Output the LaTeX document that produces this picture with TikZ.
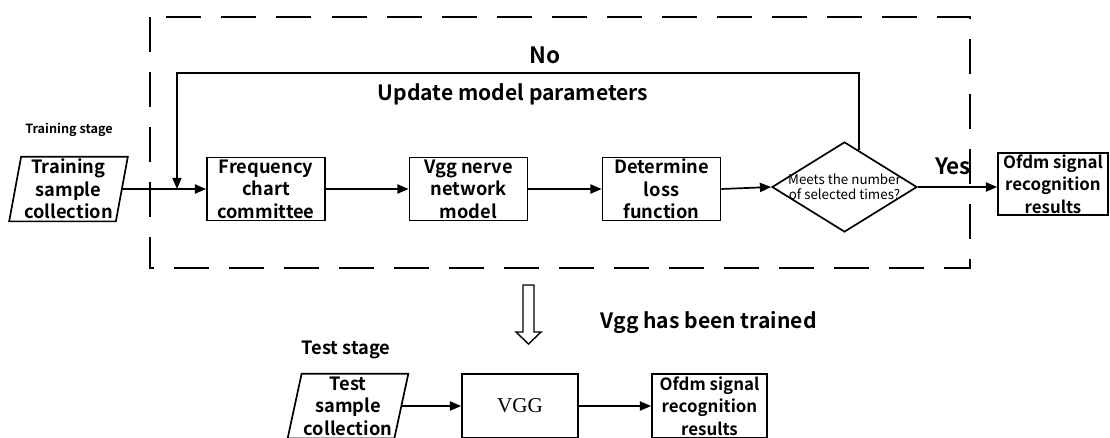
\documentclass[tikz,border=0pt]{standalone}
\usepackage{fontspec}
\setmainfont{Noto Sans CJK SC}[BoldFont={Noto Sans CJK SC Bold}]
\newfontfamily\vggfont{Liberation Serif}
\usetikzlibrary{arrows.meta,shapes.geometric,calc}

\tikzset{
  stepbox/.style={draw, minimum width=2.95cm, minimum height=1.575cm, inner sep=0pt,
    align=center, font=\bfseries\fontsize{13}{16}\selectfont},
  resbox/.style={stepbox, minimum width=2.75cm, minimum height=1.55cm,
    font=\bfseries\fontsize{12}{16}\selectfont},
  datain/.style={minimum width=2.625cm, minimum height=1.575cm, inner sep=0pt,
    align=center, font=\bfseries\fontsize{13}{16}\selectfont},
  flow/.style={-{Triangle[length=8pt,width=6.5pt]}},
  lbl/.style={font=\bfseries\fontsize{#1}{#1}\selectfont, inner sep=0pt},
}

\begin{document}
\begin{tikzpicture}[x=0.025cm, y=-0.025cm, line width=1.2pt]
  \useasboundingbox (0,0) rectangle (1110,437);

  % training stage
  \draw[line width=1.3pt, dash pattern=on 0.875cm off 0.5cm] (150,17) rectangle (970,268);
  \node[lbl=9] (trainlbl) at (69,130) {Training stage};
  \node[datain] (train) at (68.5,189) {Training\\sample\\collection};
  \draw ($(train.north west)+(6,0)$) -- ($(train.north east)+(6,0)$)
     -- ($(train.south east)+(-6,0)$) -- ($(train.south west)+(-6,0)$) -- cycle;
  \node[stepbox] (freq) at (266,189) {Frequency\\chart\\committee};
  \node[stepbox] (vggnet) at (468.5,189) {Vgg nerve\\network\\model};
  \node[stepbox] (loss) at (661.5,189) {Determine\\loss\\function};
  \node[diamond, draw, aspect=1.9, minimum width=3.625cm, minimum height=2.25cm,
        inner sep=-5pt, align=center, font=\fontsize{9.5}{11}\selectfont]
        (check) at (844.5,187) {Meets the number\\of selected times?};
  \node[resbox] (result) at (1053,184) {Ofdm signal\\recognition\\results};

  \draw[flow] (train) -- (freq);
  \draw[flow] (freq) -- (vggnet);
  \draw[flow] (vggnet) -- (loss);
  \draw[flow] (loss.east) -- (check.west);
  \draw[flow] (check.east) -- (check.east -| result.west);

  % feedback loop
  \coordinate (fbtop) at (177,73);
  \draw[flow] ($(check.north)!0.2!(check.east)$) |- (fbtop) -- (fbtop |- train.east);
  \node[lbl=16] (no) at (545,55) {No};
  \node[lbl=15] (update) at (513,94) {Update model parameters};
  \node[lbl=16] (yes) at (953,166) {Yes};

  % hollow arrow
  \draw[line width=1pt] (523,285) -- (534,285) -- (534,332) -- (541,332) -- (528.5,344)
     -- (516,332) -- (523,332) -- cycle;
  \node[lbl=15, anchor=west] (trained) at (600,322) {Vgg has been trained};

  % test stage
  \node[lbl=13] (testlbl) at (346,350) {Test stage};
  \node[datain] (test) at (348,406) {Test\\sample\\collection};
  \draw ($(test.north west)+(7,0)$) -- ($(test.north east)+(7,0)$)
     -- ($(test.south east)+(-7,0)$) -- ($(test.south west)+(-7,0)$) -- cycle;
  \node[stepbox, minimum width=2.9cm, minimum height=1.6cm, font=\vggfont\fontsize{15}{16}\selectfont]
     (vgg) at (520,406) {VGG};
  \node[resbox, minimum width=2.875cm, minimum height=1.6cm] (testres) at (709.5,406)
     {Ofdm signal\\recognition\\results};
  \draw[flow] (test) -- (vgg);
  \draw[flow] (vgg) -- (testres);
\end{tikzpicture}
\end{document}
